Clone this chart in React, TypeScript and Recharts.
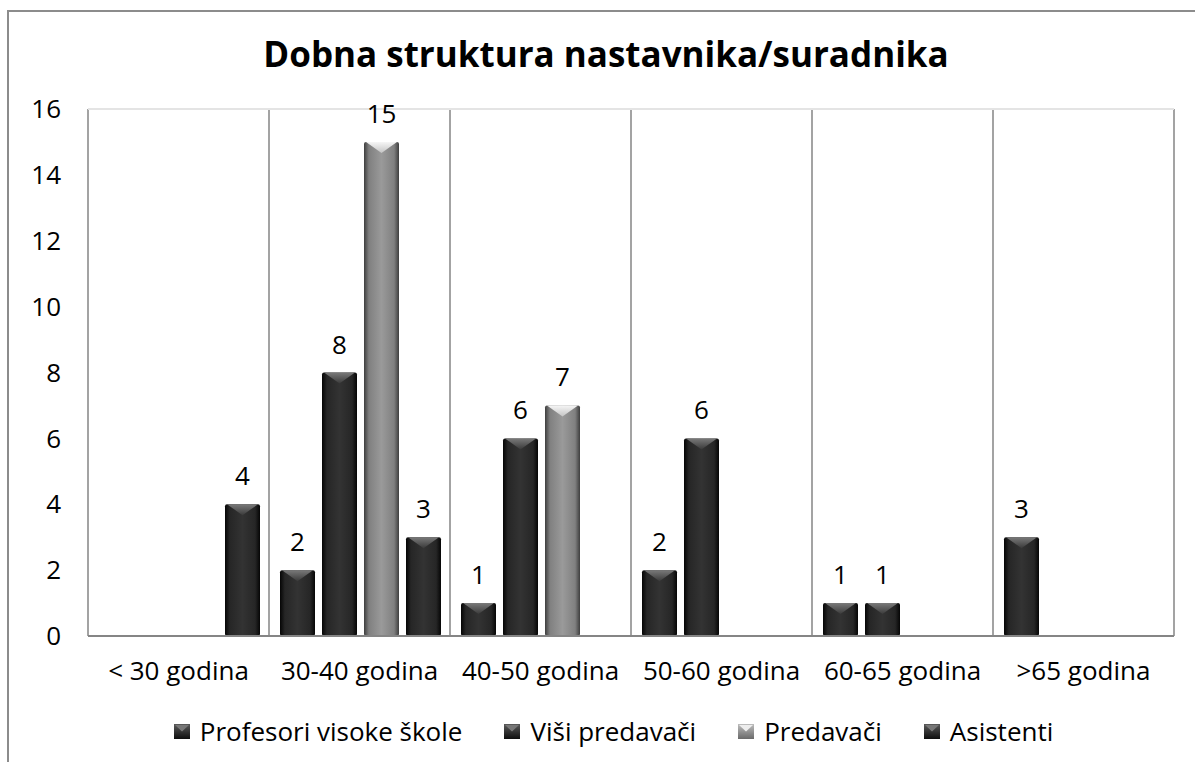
import React from "react";
import { Bar, BarChart, CartesianGrid, ReferenceLine, XAxis, YAxis } from "recharts";

// age groups on the x axis
const categories = ["< 30 godina", "30-40 godina", "40-50 godina", "50-60 godina", "60-65 godina", ">65 godina"];

// series names (legend order) and their counts per age group
const seriesNames = ["Profesori visoke škole", "Viši predavači", "Predavači", "Asistenti"];
const profesori = [0, 2, 1, 2, 1, 3];
const visiPredavaci = [0, 8, 6, 6, 1, 0];
const predavaci = [0, 15, 7, 0, 0, 0];
const asistenti = [4, 3, 0, 0, 0, 0];

const yTicks = [0, 2, 4, 6, 8, 10, 12, 14, 16];

const seriesValues = [profesori, visiPredavaci, predavaci, asistenti];
const tones = ["dark", "dark", "grey", "dark"];

const data = categories.map((name, i) => {
  const row: Record<string, string | number> = { name };
  seriesNames.forEach((s, k) => {
    row[s] = seriesValues[k][i];
  });
  return row;
});

const FONT = "'Open Sans', 'DejaVu Sans', sans-serif";

// bar with a bevelled top like the Excel 3D style
const makeShape = (tone: string) => (props: any) => {
  const { x, y, width, height } = props;
  if (!height || height <= 0) return null;
  const body = tone === "grey" ? "url(#greyBody)" : "url(#darkBody)";
  const top = tone === "grey" ? "url(#greyTop)" : "url(#darkTop)";
  const bevel = Math.min(11, height);
  return (
    <g>
      <rect x={x} y={y} width={width} height={height} fill={body} rx={2} />
      <polygon
        points={`${x + 2},${y} ${x + width - 2},${y} ${x + width / 2},${y + bevel}`}
        fill={top}
      />
    </g>
  );
};

const renderValue = (props: any) => {
  const { x, y, width, value } = props;
  if (!value) return null;
  return (
    <text x={x + width / 2} y={y - 19} textAnchor="middle" fontFamily={FONT} fontSize={26} fill="#000">
      {value}
    </text>
  );
};

const LegendIcon = ({ tone }: { tone: string }) => {
  const light = tone === "grey";
  return (
    <svg width={16} height={15} style={{ marginRight: 10 }}>
      <defs>
        <linearGradient id={`lg-${tone}`} x1="0" y1="0" x2="0" y2="1">
          <stop offset="0%" stopColor={light ? "#bdbdbd" : "#5a5a5a"} />
          <stop offset="100%" stopColor={light ? "#6a6a6a" : "#0e0e0e"} />
        </linearGradient>
      </defs>
      <rect x={0} y={0} width={16} height={15} fill={`url(#lg-${tone})`} />
      <polygon points="1,1 15,1 8,7.5" fill={light ? "#ededed" : "#777"} />
    </svg>
  );
};

const App = () => {
  return (
    <div
      style={{
        position: "absolute",
        left: 0,
        top: 0,
        width: 1195,
        height: 762,
        overflow: "hidden",
        background: "#fff",
        fontFamily: FONT,
      }}
    >
      <div
        style={{
          position: "absolute",
          left: 7,
          top: 10,
          width: 1400,
          height: 1000,
          borderTop: "2px solid #8c8c8c",
          borderLeft: "2px solid #8c8c8c",
        }}
      />
      <div
        style={{
          position: "absolute",
          left: 0,
          top: 30,
          width: 1212,
          textAlign: "center",
          fontSize: 35,
          fontWeight: 700,
          color: "#000",
        }}
      >
        Dobna struktura nastavnika/suradnika
      </div>
      <div style={{ position: "absolute", left: 0, top: 0 }}>
        <BarChart
          width={1195}
          height={762}
          data={data}
          margin={{ top: 109, right: 21, bottom: 66, left: 0 }}
          barCategoryGap={11}
          barGap={7}
        >
          <defs>
            <linearGradient id="darkBody" x1="0" y1="0" x2="1" y2="0">
              <stop offset="0%" stopColor="#050505" />
              <stop offset="14%" stopColor="#262626" />
              <stop offset="50%" stopColor="#333" />
              <stop offset="86%" stopColor="#262626" />
              <stop offset="100%" stopColor="#050505" />
            </linearGradient>
            <linearGradient id="greyBody" x1="0" y1="0" x2="1" y2="0">
              <stop offset="0%" stopColor="#3e3e3e" />
              <stop offset="14%" stopColor="#808080" />
              <stop offset="50%" stopColor="#9a9a9a" />
              <stop offset="86%" stopColor="#808080" />
              <stop offset="100%" stopColor="#3e3e3e" />
            </linearGradient>
            <linearGradient id="darkTop" x1="0" y1="0" x2="0" y2="1">
              <stop offset="0%" stopColor="#7a7a7a" />
              <stop offset="100%" stopColor="#3a3a3a" />
            </linearGradient>
            <linearGradient id="greyTop" x1="0" y1="0" x2="0" y2="1">
              <stop offset="0%" stopColor="#f6f6f6" />
              <stop offset="100%" stopColor="#c4c4c4" />
            </linearGradient>
          </defs>
          <CartesianGrid
            horizontal={false}
            stroke="#858585"
            strokeWidth={1.5}
            verticalCoordinatesGenerator={({ offset }: any) =>
              categories.map((_, i) => offset.left + (i * offset.width) / categories.length).concat(offset.left + offset.width)
            }
          />
          <ReferenceLine y={16} stroke="#e4e4e4" strokeWidth={2} />
          <XAxis
            dataKey="name"
            height={60}
            tickLine={false}
            axisLine={{ stroke: "#858585", strokeWidth: 2 }}
            tickMargin={20}
            tick={{ fill: "#000", fontSize: 26, fontFamily: FONT }}
            interval={0}
          />
          <YAxis
            width={88}
            domain={[0, 16]}
            ticks={yTicks}
            tickLine={false}
            axisLine={false}
            tickMargin={21}
            tick={{ fill: "#000", fontSize: 26, fontFamily: FONT }}
          />
          {seriesNames.map((s, k) => (
            <Bar
              key={s}
              dataKey={s}
              shape={makeShape(tones[k])}
              label={renderValue}
              isAnimationActive={false}
            />
          ))}
        </BarChart>
      </div>
      <div
        style={{
          position: "absolute",
          left: 0,
          top: 713,
          width: 1227,
          display: "flex",
          justifyContent: "center",
          alignItems: "center",
          gap: 42,
          fontSize: 26,
          color: "#000",
        }}
      >
        {seriesNames.map((s, k) => (
          <div key={s} style={{ display: "flex", alignItems: "center" }}>
            <LegendIcon tone={tones[k]} />
            <span>{s}</span>
          </div>
        ))}
      </div>
    </div>
  );
};

export default App;
